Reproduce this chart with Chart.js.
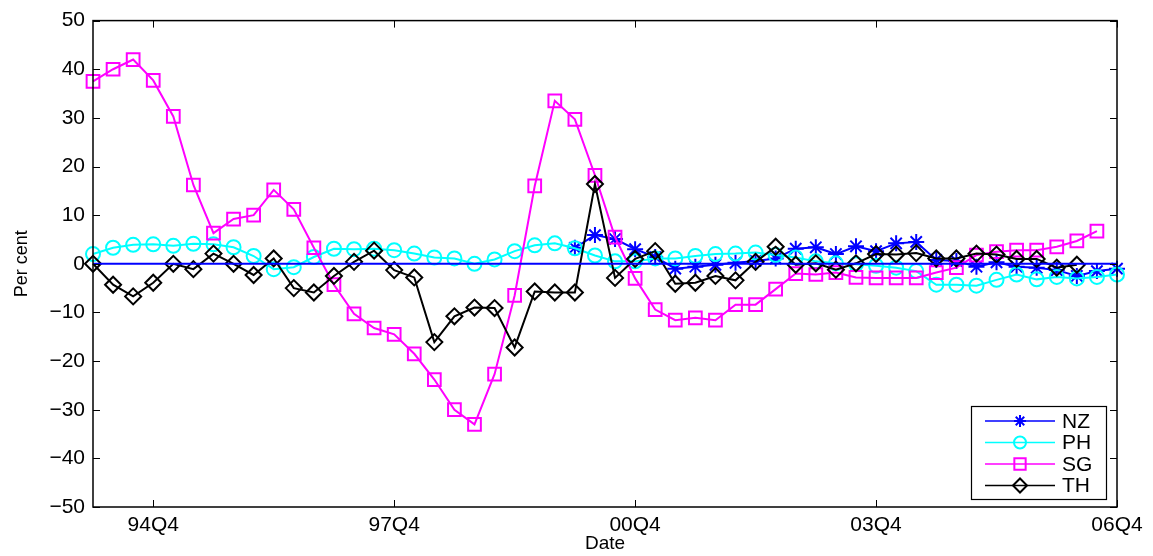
<!DOCTYPE html>
<html lang="en">
<head>
    <meta charset="UTF-8">
    <title>Per cent by quarter</title>
    <style>
        body {
            margin: 0;
            background: #fff;
        }
        .chart-container {
            width: 1153px;
            height: 556px;
        }
    </style>
</head>
<body>
    <div class="chart-container">
        <canvas id="pctChart"></canvas>
    </div>

    <script src="https://cdn.jsdelivr.net/npm/chart.js"></script>
    <script>
        // quarters 94Q1 .. 06Q4
        const quarters = [];
        for (let y = 94; y <= 106; y++) {
            for (let q = 1; q <= 4; q++) {
                quarters.push(String(y % 100).padStart(2, '0') + 'Q' + q);
            }
        }
        const tickLabels = ['94Q4', '97Q4', '00Q4', '03Q4', '06Q4'];
        const yTicks = [-50, -40, -30, -20, -10, 0, 10, 20, 30, 40, 50];

        // NZ starts at 00Q1
        const nzStart = 24;
        const nzValues = [3.3, 5.9, 5.1, 3.0, 1.4, -1.0, -0.6, -0.2, 0.2, 0.6,
                          1.1, 3.1, 3.4, 2.0, 3.6, 2.6, 4.2, 4.5, 0.8, 0.6,
                          -0.6, 0.3, -0.6, -0.8, -1.3, -2.5, -1.5, -1.0];
        const phValues = [2.0, 3.3, 3.9, 4.0, 3.7, 4.1, 4.0, 3.4, 1.6, -1.1,
                          -0.7, 1.4, 3.1, 3.0, 3.1, 2.8, 2.1, 1.3, 1.1, 0.0,
                          0.9, 2.6, 3.8, 4.2, 3.2, 1.7, 0.5, 0.5, 1.1, 1.1,
                          1.6, 2.0, 2.1, 2.3, 1.8, 1.3, 0.5, 0.1, -0.1, -0.4,
                          -0.8, -1.5, -4.3, -4.3, -4.5, -3.3, -2.2, -3.2, -2.7, -3.0,
                          -2.7, -2.2];
        const sgValues = [37.5, 40, 42, 37.7, 30.3, 16.2, 6.3, 9.2, 10, 15.2,
                          11.2, 3.3, -4.3, -10.3, -13.2, -14.5, -18.5, -23.8, -30, -33,
                          -22.7, -6.5, 16, 33.5, 29.7, 18.2, 5.5, -3.0, -9.4, -11.6,
                          -11.1, -11.6, -8.4, -8.4, -5.2, -2.0, -2.2, -1.8, -2.8, -2.9,
                          -2.9, -2.9, -1.8, -0.8, 1.8, 2.5, 2.8, 2.8, 3.5, 4.7,
                          6.7];
        const thValues = [0, -4.3, -6.7, -3.9, 0, -1.1, 2.1, 0, -2.3, 1.1,
                          -5.0, -5.9, -2.5, 0.4, 2.7, -1.3, -2.8, -16.1, -10.8, -9.0,
                          -9.1, -17.2, -5.7, -5.9, -5.9, 16.4, -2.9, 1.0, 2.6, -4.1,
                          -3.9, -2.5, -3.4, 0.4, 3.5, -0.2, 0.1, -1.2, 0.1, 2.0,
                          1.9, 2.2, 1.1, 1.1, 2.1, 1.9, 1.0, 1.0, -0.8, -0.2];
        const zeroLine = quarters.map(() => 0);

        const FONT = "'Liberation Sans', Arial, Helvetica, sans-serif";

        // matlab style box, inward ticks and legend
        const framePlugin = {
            id: 'frame',
            afterDraw(chart) {
                const ctx = chart.ctx;
                const a = chart.chartArea;
                const xs = chart.scales.x, ys = chart.scales.y;
                ctx.save();
                ctx.strokeStyle = '#000';
                ctx.lineWidth = 1.5;
                ctx.strokeRect(a.left, a.top, a.right - a.left, a.bottom - a.top);
                ctx.lineWidth = 1;
                ctx.beginPath();
                tickLabels.forEach(lbl => {
                    const px = Math.round(xs.getPixelForValue(quarters.indexOf(lbl))) + 0.5;
                    ctx.moveTo(px, a.bottom); ctx.lineTo(px, a.bottom - 7);
                    ctx.moveTo(px, a.top); ctx.lineTo(px, a.top + 7);
                });
                yTicks.forEach(v => {
                    const py = Math.round(ys.getPixelForValue(v)) + 0.5;
                    ctx.moveTo(a.left, py); ctx.lineTo(a.left + 7, py);
                    ctx.moveTo(a.right, py); ctx.lineTo(a.right - 7, py);
                });
                ctx.stroke();

                // legend
                const lx = 971, ly = 406, lw = 135, lh = 93;
                ctx.fillStyle = '#fff';
                ctx.fillRect(lx, ly, lw, lh);
                ctx.strokeStyle = '#000';
                ctx.lineWidth = 1.2;
                ctx.strokeRect(lx + 0.5, ly + 0.5, lw, lh);
                const items = chart.data.datasets.filter(d => d.label);
                items.sort((p, q) => p.legendIdx - q.legendIdx);
                items.forEach((d, i) => {
                    const cy = ly + 15 + i * 21.5;
                    ctx.strokeStyle = d.borderColor;
                    ctx.lineWidth = 1.5;
                    ctx.beginPath();
                    ctx.moveTo(lx + 14, cy); ctx.lineTo(lx + 84, cy);
                    ctx.stroke();
                    ctx.fillStyle = 'rgba(0,0,0,0)';
                    ctx.lineWidth = 2;
                    Chart.helpers.drawPoint(ctx, {
                        pointStyle: d.pointStyle,
                        radius: d.legendRadius,
                        borderWidth: 2,
                        rotation: 0
                    }, lx + 49, cy);
                    ctx.fillStyle = '#000';
                    ctx.font = '21px ' + FONT;
                    ctx.textBaseline = 'middle';
                    ctx.textAlign = 'left';
                    ctx.fillText(d.label, lx + 91, cy + 1);
                });
                ctx.restore();
            }
        };

        const ctx = document.getElementById('pctChart').getContext('2d');
        const pctChart = new Chart(ctx, {
            type: 'line',
            data: {
                labels: quarters,
                datasets: [
                    {
                        label: 'NZ',
                        legendIdx: 0,
                        data: Array(nzStart).fill(null).concat(nzValues),
                        borderColor: '#0000ff',
                        pointStyle: 'star',
                        pointRadius: 8,
                        legendRadius: 6,
                        order: 4
                    },
                    {
                        label: 'PH',
                        legendIdx: 1,
                        data: phValues,
                        borderColor: '#00ffff',
                        pointStyle: 'circle',
                        pointRadius: 7,
                        legendRadius: 6,
                        order: 3
                    },
                    {
                        label: 'SG',
                        legendIdx: 2,
                        data: sgValues,
                        borderColor: '#ff00ff',
                        pointStyle: 'rect',
                        pointRadius: 9,
                        legendRadius: 8,
                        order: 2
                    },
                    {
                        label: 'TH',
                        legendIdx: 3,
                        data: thValues,
                        borderColor: '#000000',
                        pointStyle: 'rectRot',
                        pointRadius: 8,
                        legendRadius: 7,
                        order: 1
                    },
                    {
                        label: '',
                        data: zeroLine,
                        borderColor: '#0000ff',
                        borderWidth: 2,
                        pointRadius: 0,
                        order: 0
                    }
                ].map(d => Object.assign({
                    borderWidth: 2,
                    pointBorderWidth: 2,
                    pointBorderColor: d.borderColor,
                    pointBackgroundColor: 'rgba(0,0,0,0)',
                    tension: 0,
                    spanGaps: false
                }, d))
            },
            options: {
                responsive: true,
                maintainAspectRatio: false,
                animation: false,
                layout: {
                    padding: { left: 0, right: 36, top: 18, bottom: 0 }
                },
                plugins: {
                    legend: { display: false },
                    tooltip: { enabled: false }
                },
                scales: {
                    x: {
                        type: 'category',
                        offset: false,
                        grid: { display: false, drawTicks: false },
                        border: { display: false },
                        ticks: {
                            autoSkip: false,
                            maxRotation: 0,
                            padding: 6,
                            color: '#000',
                            font: { family: FONT, size: 21 },
                            callback: (v, i) => tickLabels.includes(quarters[i]) ? quarters[i] : ''
                        },
                        title: {
                            display: true,
                            text: 'Date',
                            color: '#000',
                            font: { family: FONT, size: 19 },
                            padding: { top: 0, bottom: 1 }
                        },
                        afterFit: s => { s.height = 49; }
                    },
                    y: {
                        min: -50,
                        max: 50,
                        grid: { display: false, drawTicks: false },
                        border: { display: false },
                        ticks: {
                            stepSize: 10,
                            padding: 8,
                            color: '#000',
                            font: { family: FONT, size: 21 },
                            callback: v => v < 0 ? '\u2212' + Math.abs(v) : String(v)
                        },
                        title: {
                            display: true,
                            text: 'Per cent',
                            color: '#000',
                            font: { family: FONT, size: 18 },
                            padding: { top: 11, bottom: 0 }
                        },
                        afterFit: s => { s.width = 93; }
                    }
                }
            },
            plugins: [framePlugin]
        });
    </script>
</body>
</html>
